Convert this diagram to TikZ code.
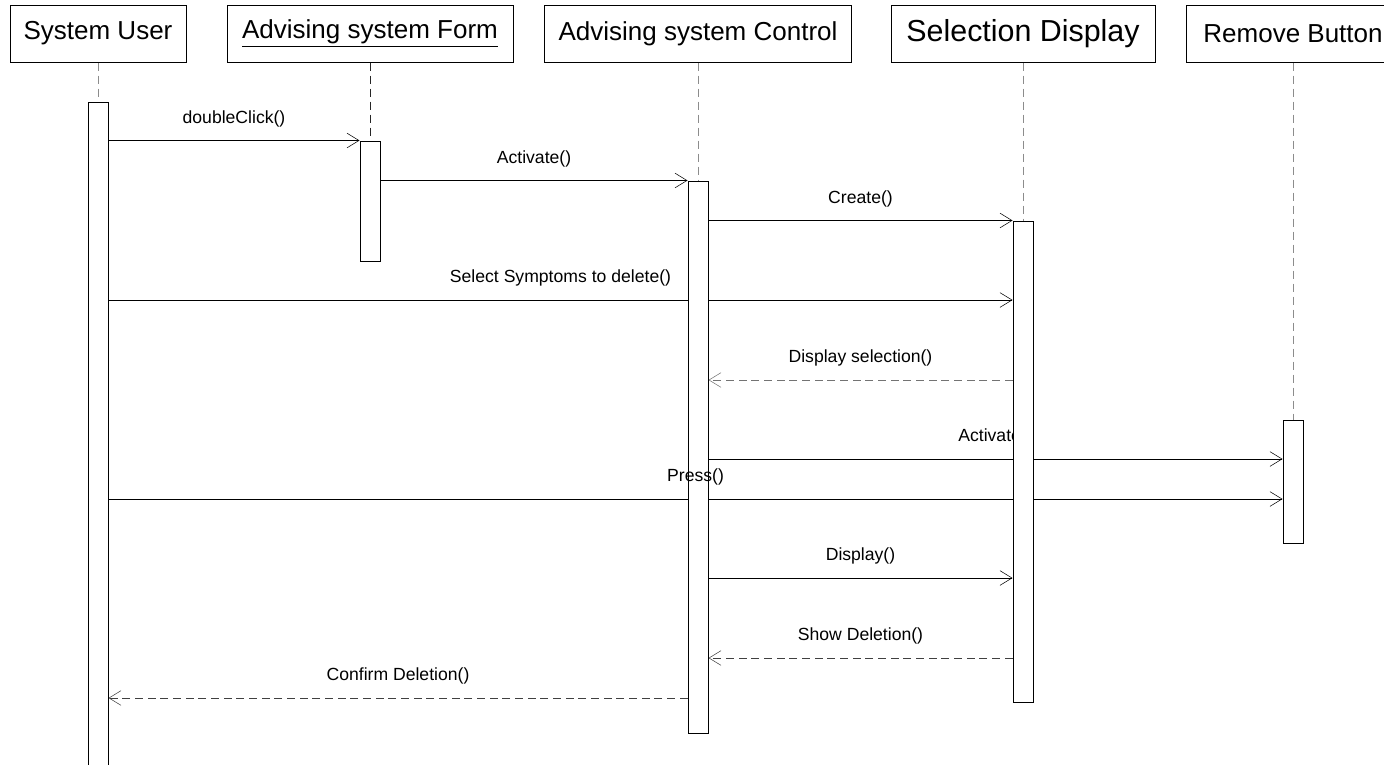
\documentclass[tikz,border=0pt]{standalone}
\usepackage{fontspec}
\setmainfont{Liberation Sans}
\usetikzlibrary{arrows.meta,fit}
\pgfdeclarelayer{back}
\pgfsetlayers{back,main}

\begin{document}
\begin{tikzpicture}[x=0.75pt,y=-0.75pt,line width=0.75pt,
  head/.style={draw,fill=white,minimum height=42.75pt,inner sep=0pt,font=\fontsize{19.5}{22}\selectfont},
  actbar/.style={draw,fill=white,inner sep=0pt},
  life/.style={dash pattern=on 6pt off 3.75pt,black!45},
  msg/.style={-{Straight Barb[length=9pt,width=11pt]}},
  ret/.style={msg,dash pattern=on 6pt off 3.5pt,black!75},
  lbl/.style={anchor=base,yshift=13pt,text=black,font=\fontsize{13.2}{15}\selectfont}]
\useasboundingbox (0,0) rectangle (1384,764);

% objects
\node[head,minimum width=132pt] (user) at (98,33.5) {System User};
\node[head,minimum width=214.5pt] (form) at (370,33.5) {\underline{Advising system Form}};
\node[head,minimum width=230pt] (ctrl) at (698,33.5) {Advising system Control};
\node[head,minimum width=198pt,font=\fontsize{22.8}{26}\selectfont] (sel) at (1023,33.5) {Selection Display};
\node[head,minimum width=160.5pt] (rem) at (1293,33.5) {Remove Button};

% activation bars
\node[actbar,fit={(88,102) (108,780)}] (userbar) {};
\node[actbar,fit={(360,141) (380,261)}] (formbar) {};
\node[actbar,fit={(688,181) (708,733)}] (ctrlbar) {};

% message levels
\coordinate (t4) at (0,300);
\coordinate (t5) at (0,380);
\coordinate (t6) at (0,459);
\coordinate (t7) at (0,499);
\coordinate (t8) at (0,578);
\coordinate (t9) at (0,658);
\coordinate (t10) at (0,698);

\node[actbar,fit={(1013,221) (1033,702)}] (selbar) {};
\node[actbar,fit={(1283,420) (1303,543)}] (rembar) {};

\begin{pgfonlayer}{back}
\draw[life] (user) -- (userbar);
\draw[life,black!85] (form) -- (formbar);
\draw[life] (ctrl) -- (ctrlbar);
\draw[life] (sel) -- (selbar);
\draw[life] (rem) -- (rembar);

\draw[msg] (userbar.east |- formbar.north) -- node[lbl]{doubleClick()} (formbar.north west);
\draw[msg] (formbar.east |- ctrlbar.north) -- node[lbl]{Activate()} (ctrlbar.north west);
\draw[msg] (ctrlbar.east |- selbar.north) -- node[lbl]{Create()} (selbar.north west);
\draw[msg] (userbar.east |- t4) -- node[lbl]{Select Symptoms to delete()} (selbar.west |- t4);
\draw[ret,black!55] (selbar.west |- t5) -- node[lbl]{Display selection()} (ctrlbar.east |- t5);
\draw[msg] (ctrlbar.east |- t6) -- node[lbl]{Activate()} (rembar.west |- t6);
\draw[msg] (userbar.east |- t7) -- coordinate (pressmid) (rembar.west |- t7);
\draw[msg] (ctrlbar.east |- t8) -- node[lbl]{Display()} (selbar.west |- t8);
\draw[ret] (selbar.west |- t9) -- node[lbl]{Show Deletion()} (ctrlbar.east |- t9);
\draw[ret] (ctrlbar.west |- t10) -- node[lbl]{Confirm Deletion()} (userbar.east |- t10);
\end{pgfonlayer}

\node[lbl] (presslbl) at (pressmid) {Press()};
\end{tikzpicture}
\end{document}
